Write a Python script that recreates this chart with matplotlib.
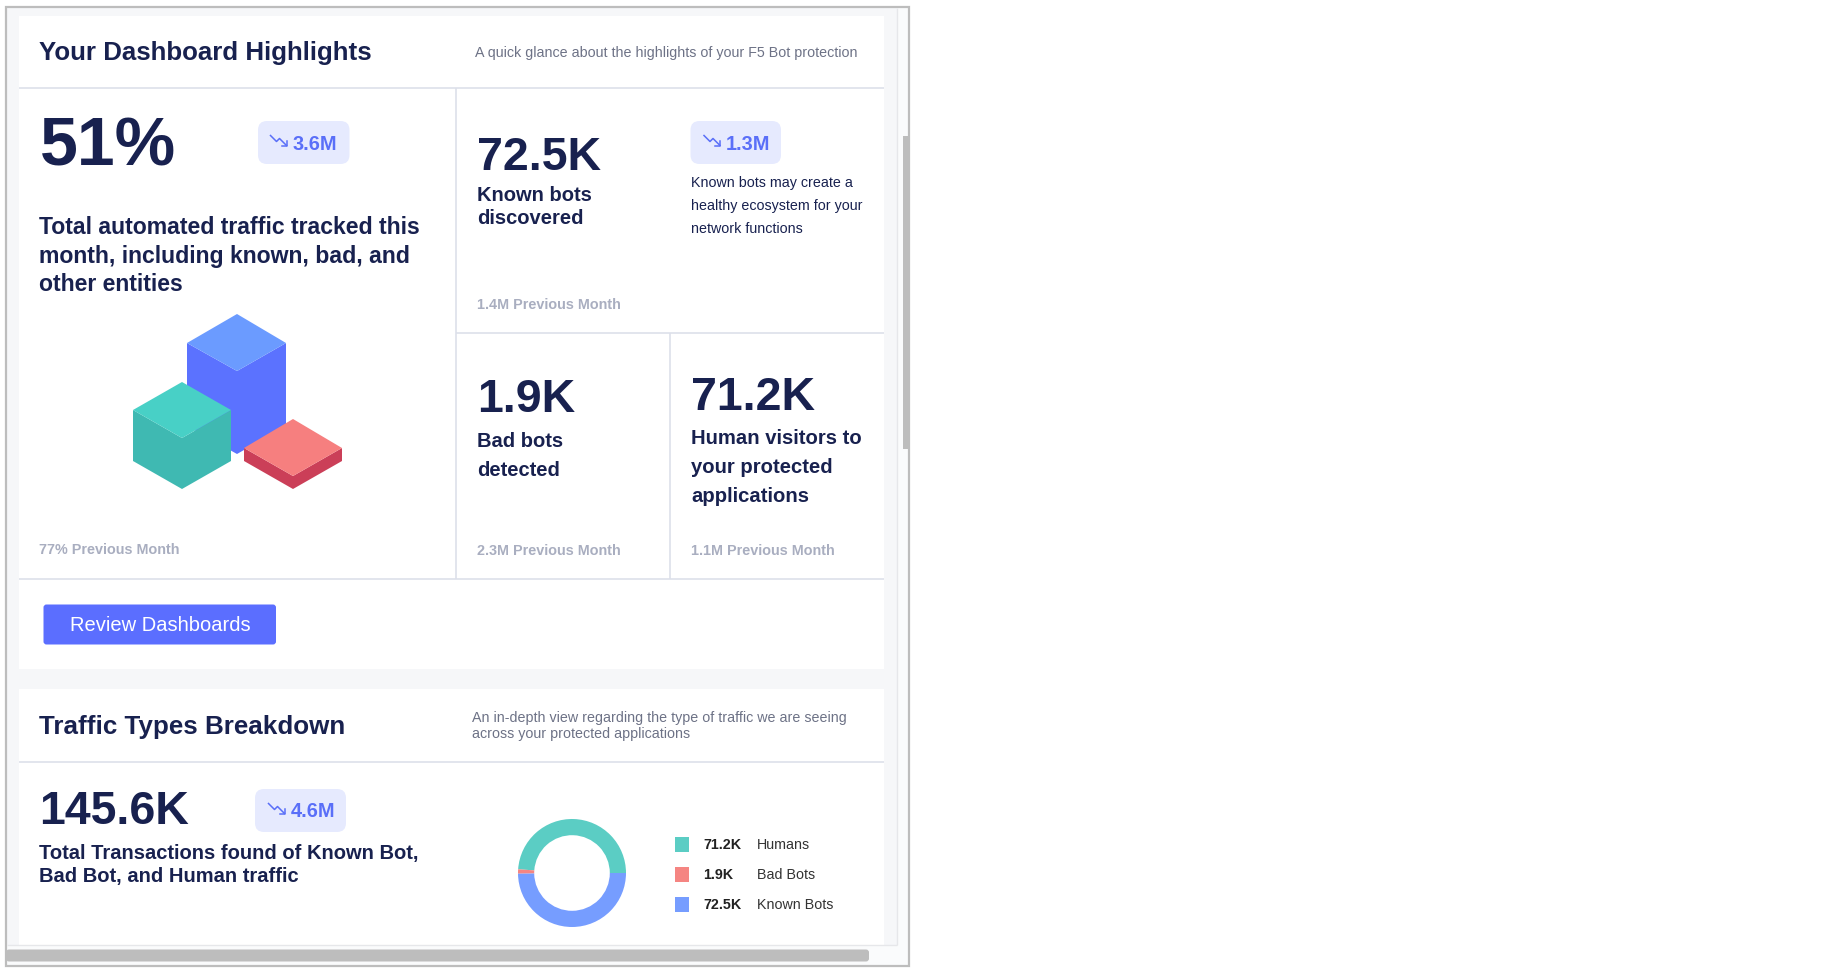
import matplotlib
matplotlib.use("Agg")
import matplotlib.pyplot as plt
from matplotlib.patches import Rectangle, FancyBboxPatch, Polygon

plt.rcParams['font.family'] = ['Liberation Sans', 'DejaVu Sans']

# donut data
traffic_labels = ['Humans', 'Bad Bots', 'Known Bots']
traffic_text = ['71.2K', '1.9K', '72.5K']
traffic_values = [71.2, 1.9, 72.5]
traffic_colors = ['#5BCDC4', '#F58582', '#769DFF']

NAVY = '#18214F'
GREY = '#A9AEC0'
SUB = '#6D7286'
LINE = '#DDE0EA'
BLUE = '#5A6FF8'
BADGE = '#E6EAFE'

W, H = 1835, 970
fig = plt.figure(figsize=(W / 100, H / 100), dpi=100, facecolor='white')
ax = fig.add_axes([0, 0, 1, 1])
ax.set_xlim(0, W)
ax.set_ylim(H - 2, -2)
ax.axis('off')


def txt(x, y, s, px, color=NAVY, weight='bold', **kw):
    # px -> pt at dpi 100
    ax.text(x, y, s, fontsize=px * 0.72, color=color, fontweight=weight, va='center', **kw)


def rect(x0, y0, x1, y1, color, **kw):
    ax.add_patch(Rectangle((x0, y0), x1 - x0, y1 - y0, facecolor=color, edgecolor='none', **kw))


def line(x0, y0, x1, y1, color=LINE, lw=1.2):
    ax.plot([x0, x1], [y0, y1], color=color, lw=lw, solid_capstyle='butt')


def badge(x0, y0, x1, y1, label, tx):
    r = 9
    ax.add_patch(FancyBboxPatch((x0 + r, y0 + r), x1 - x0 - 2 * r, y1 - y0 - 2 * r,
                                boxstyle='round,pad=%d,rounding_size=%d' % (r, r),
                                facecolor=BADGE, edgecolor='none'))
    cy = (y0 + y1) / 2
    # little trending-down arrow
    ix = tx - 22
    ax.plot([ix, ix + 6, ix + 9, ix + 16], [cy - 7, cy - 1, cy - 4, cy + 3], color=BLUE, lw=1.1)
    ax.plot([ix + 16, ix + 16, ix + 11], [cy - 2, cy + 3, cy + 3], color=BLUE, lw=1.1)
    txt(tx, cy + 0.5, label, 20, color=BLUE)


# frame and panels
rect(6, 6, 909, 965, '#FAFBFC')
rect(6, 6, 897, 944, '#F6F7F9')
ax.add_patch(Rectangle((6, 6), 903, 959, fill=False, edgecolor='#BDBDBD', lw=1.6))
line(897, 7, 897, 944, '#E6E7EA', 1)
line(7, 944, 897, 944, '#E6E7EA', 1)
rect(19, 15, 883.5, 668, 'white')
rect(19, 688, 883.5, 944, 'white')

# scrollbars
rect(902.5, 135, 908, 448, '#BDBDBD')
ax.add_patch(FancyBboxPatch((9, 951.5), 857, 6, boxstyle='round,pad=3,rounding_size=3',
                            facecolor='#BDBDBD', edgecolor='none'))

# grid lines
line(19, 87, 883.5, 87)
line(456, 87, 456, 578)
line(456, 331.5, 883.5, 331.5)
line(670, 331.5, 670, 578)
line(19, 578, 883.5, 578)
line(19, 761, 883.5, 761)

# top card
txt(39, 51, 'Your Dashboard Highlights', 25.9)
txt(475, 51, 'A quick glance about the highlights of your F5 Bot protection', 14.2, color=SUB, weight='normal')
txt(40, 146, '51%', 68)
badge(258, 120, 349.5, 163, '3.6M', 292.5)
for y, s in zip([225, 254, 283], ['Total automated traffic tracked this', 'month, including known, bad, and', 'other entities']):
    txt(39, y, s, 23)

txt(477, 156.5, '72.5K', 46.5)
for y, s in zip([193.5, 216.5], ['Known bots', 'discovered']):
    txt(477, y, s, 20.2)
badge(690.5, 120, 781, 163, '1.3M', 726)
for y, s in zip([181, 204, 227], ['Known bots may create a', 'healthy ecosystem for your', 'network functions']):
    txt(690.5, y, s, 14.3, weight='normal')
txt(477, 303, '1.4M Previous Month', 14.4, color=GREY)

txt(477, 398.5, '1.9K', 46.5)
for y, s in zip([440, 469], ['Bad bots', 'detected']):
    txt(477, y, s, 20.2)
txt(477, 549, '2.3M Previous Month', 14.4, color=GREY)

txt(691, 396.5, '71.2K', 46.5)
for y, s in zip([437, 466, 495], ['Human visitors to', 'your protected', 'applications']):
    txt(691, y, s, 20.3)
txt(691, 549, '1.1M Previous Month', 14.4, color=GREY)
txt(39, 548, '77% Previous Month', 14.4, color=GREY)

# cubes
ax.add_patch(Polygon([(187, 342), (187, 425), (237, 453), (286, 425), (286, 342), (237, 370)], fc='#5B72FF', ec='none'))
ax.add_patch(Polygon([(237, 313), (286, 342), (237, 370), (187, 342)], fc='#6B9BFF', ec='none'))
ax.add_patch(Polygon([(133, 409), (133, 460), (182, 488), (231, 460), (231, 409), (182, 437)], fc='#3FB9B2', ec='none'))
ax.add_patch(Polygon([(182, 381), (231, 409), (182, 437), (133, 409)], fc='#48D0C6', ec='none'))
ax.add_patch(Polygon([(244, 447), (244, 460), (293, 488), (342, 460), (342, 447), (293, 475)], fc='#CB3F58', ec='none'))
ax.add_patch(Polygon([(293, 418), (342, 447), (293, 475), (244, 447)], fc='#F67F7F', ec='none'))

# button
ax.add_patch(FancyBboxPatch((46.5, 606.5), 226.5, 34, boxstyle='round,pad=3,rounding_size=3', facecolor='#5B6EFF', edgecolor='none'))
txt(160, 624, 'Review Dashboards', 20.2, color='white', weight='normal', ha='center')

# second card
txt(39, 725, 'Traffic Types Breakdown', 26)
txt(472, 716.5, 'An in-depth view regarding the type of traffic we are seeing', 14.2, color=SUB, weight='normal')
txt(472, 732.5, 'across your protected applications', 14.2, color=SUB, weight='normal')
txt(39, 810.5, '145.6K', 46.5)
badge(255, 788, 346, 831, '4.6M', 290.5)
for y, s in zip([852, 875], ['Total Transactions found of Known Bot,', 'Bad Bot, and Human traffic']):
    txt(39, y, s, 20.1)

# donut
cx, cy, r = 572, 874, 54
dax = fig.add_axes([(cx - r) / W, 1 - (cy + r) / H, 2 * r / W, 2 * r / H])
dax.pie(traffic_values, colors=traffic_colors, startangle=0, counterclock=True, radius=1,
        wedgeprops={'width': 0.3, 'edgecolor': 'none'})
dax.set_xlim(-1, 1)
dax.set_ylim(-1, 1)

# legend
for y, c, t, lab in zip([843.5, 873.5, 903.5], traffic_colors, traffic_text, traffic_labels):
    rect(675, y - 7.5, 689, y + 7.5, c)
    txt(703, y, t, 14.2, color='#222222')
    txt(757, y, lab, 14.2, color='#333333', weight='normal')

fig.savefig('out.png', dpi=100)
